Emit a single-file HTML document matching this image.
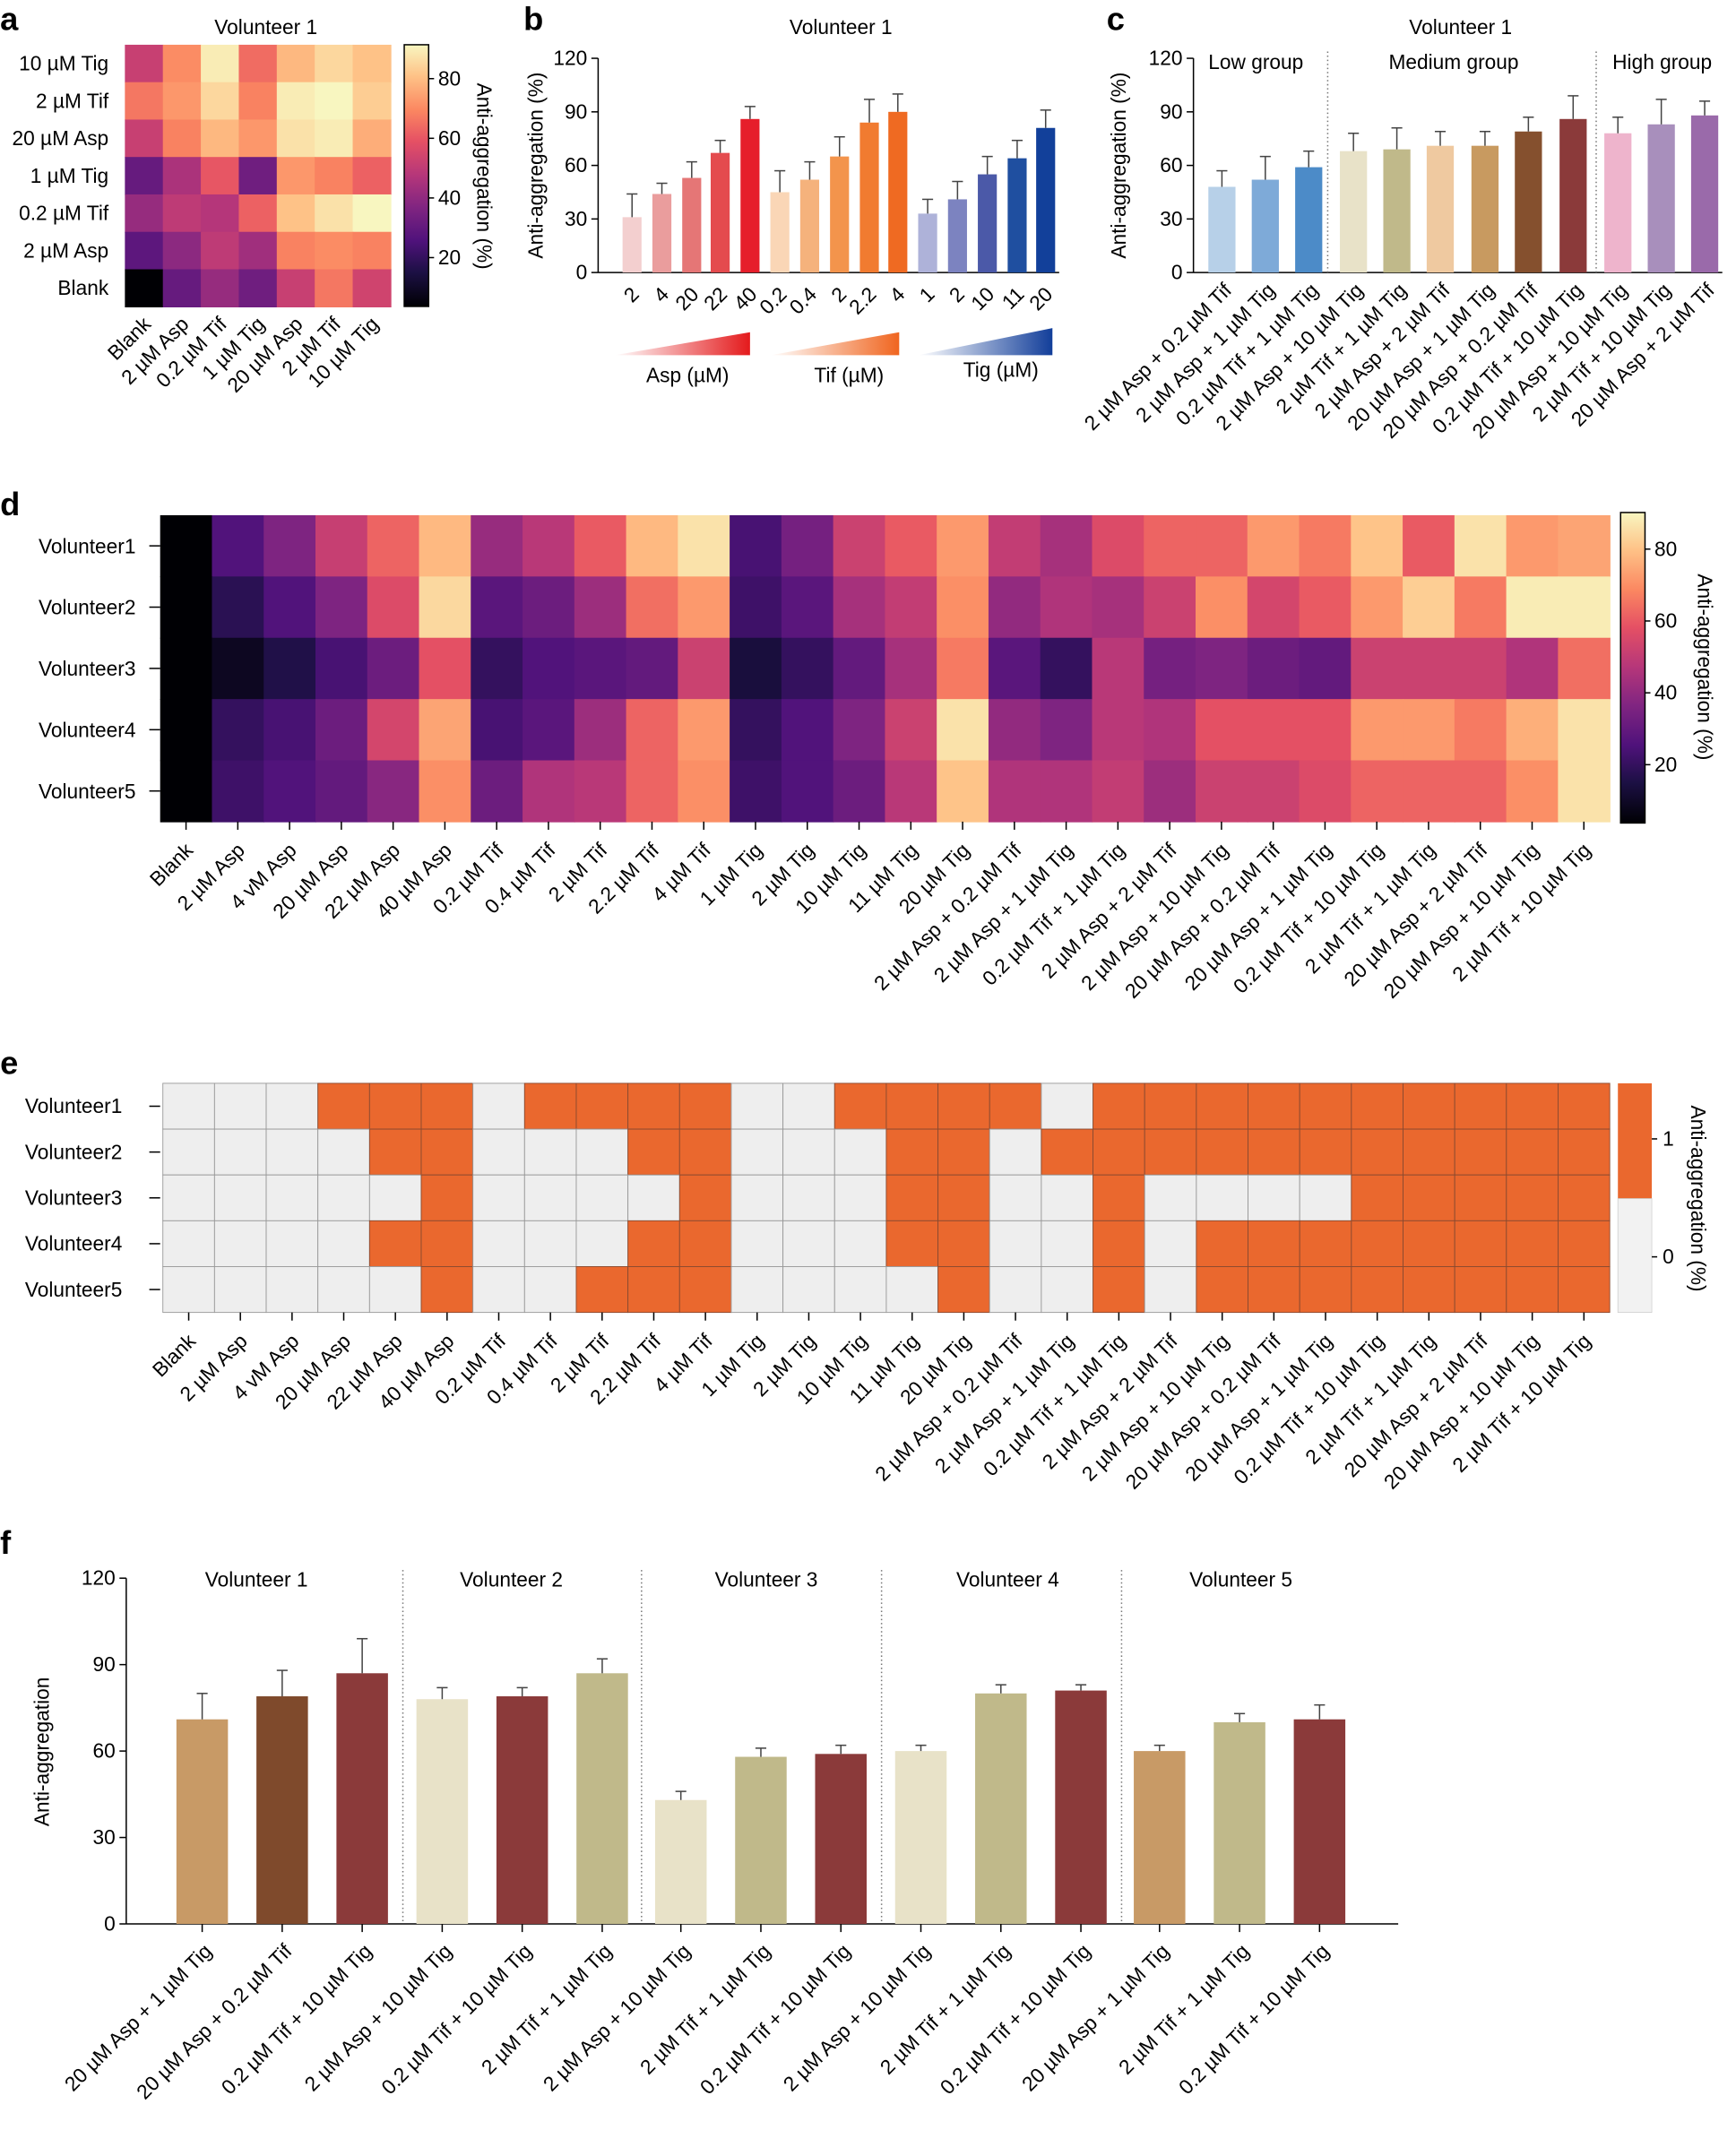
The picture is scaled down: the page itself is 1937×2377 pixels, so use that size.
<!DOCTYPE html>
<html><head><meta charset="utf-8"><style>
html,body{margin:0;padding:0;background:#fff;}
svg{display:block;font-family:"Liberation Sans",Arial,sans-serif;}
</style></head><body>
<svg id="s" width="1937" height="2377" viewBox="0 0 1280 1571" xmlns="http://www.w3.org/2000/svg">
<defs>
<linearGradient id="cm" x1="0" y1="1" x2="0" y2="0">
<stop offset="0" stop-color="#000004"/><stop offset="0.13" stop-color="#1c1044"/><stop offset="0.25" stop-color="#4f127b"/><stop offset="0.38" stop-color="#812581"/><stop offset="0.5" stop-color="#b5367a"/><stop offset="0.63" stop-color="#e55064"/><stop offset="0.75" stop-color="#fb8761"/><stop offset="0.88" stop-color="#fec287"/><stop offset="1" stop-color="#f8f6c0"/>
</linearGradient>
<linearGradient id="ga" x1="0" x2="1"><stop offset="0" stop-color="#fff"/><stop offset="1" stop-color="#e41a1c"/></linearGradient>
<linearGradient id="gt" x1="0" x2="1"><stop offset="0" stop-color="#fff"/><stop offset="1" stop-color="#f0651f"/></linearGradient>
<linearGradient id="gg" x1="0" x2="1"><stop offset="0" stop-color="#fff"/><stop offset="1" stop-color="#123e9a"/></linearGradient>
</defs>
<g font-weight="bold" font-size="24">
<text x="0" y="22">a</text><text x="386" y="22">b</text><text x="816" y="22">c</text><text x="0" y="380">d</text><text x="0" y="792">e</text><text x="0" y="1146">f</text>
</g>
<g font-size="15">
<text x="196" y="25" text-anchor="middle">Volunteer 1</text>
<text x="620" y="25" text-anchor="middle">Volunteer 1</text>
<text x="1077" y="25" text-anchor="middle">Volunteer 1</text>
<text x="891" y="51">Low group</text><text x="1024" y="51">Medium group</text><text x="1189" y="51">High group</text>
<text transform="translate(352,130) rotate(90)" text-anchor="middle">Anti-aggregation (%)</text>
<text transform="translate(400,122) rotate(-90)" text-anchor="middle">Anti-aggregation (%)</text>
<text transform="translate(830,122) rotate(-90)" text-anchor="middle">Anti-aggregation (%)</text>
<text transform="translate(1252,492) rotate(90)" text-anchor="middle">Anti-aggregation (%)</text>
<text transform="translate(1247,884) rotate(90)" text-anchor="middle">Anti-aggregation (%)</text>
<text transform="translate(36,1292) rotate(-90)" text-anchor="middle">Anti-aggregation</text>
<text x="507" y="282" text-anchor="middle">Asp (µM)</text>
<text x="626" y="282" text-anchor="middle">Tif (µM)</text>
<text x="738" y="278" text-anchor="middle">Tig (µM)</text>
<text x="189" y="1170" text-anchor="middle">Volunteer 1</text><text x="377" y="1170" text-anchor="middle">Volunteer 2</text><text x="565" y="1170" text-anchor="middle">Volunteer 3</text><text x="743" y="1170" text-anchor="middle">Volunteer 4</text><text x="915" y="1170" text-anchor="middle">Volunteer 5</text>
</g>
<polygon points="453,262 553,262 553,245" fill="url(#ga)"/>
<polygon points="568,262 663,262 663,245" fill="url(#gt)"/>
<polygon points="677,262 776,262 776,242" fill="url(#gg)"/>
<g id="g"></g>
</svg>
<script>
var NS="http://www.w3.org/2000/svg",G=document.getElementById("g");
function el(t,a,txt){var e=document.createElementNS(NS,t);for(var k in a)e.setAttribute(k,a[k]);if(txt!==undefined)e.textContent=txt;G.appendChild(e);return e;}
var S=[[0,[0,0,4]],[0.13,[28,16,68]],[0.25,[79,18,123]],[0.38,[129,37,129]],[0.5,[181,54,122]],[0.63,[229,80,100]],[0.75,[251,135,97]],[0.88,[254,194,135]],[1,[248,246,192]]];
function cm(t){t=Math.max(0,Math.min(1,t));for(var i=1;i<S.length;i++){if(t<=S[i][0]){var a=S[i-1],b=S[i],f=(t-a[0])/(b[0]-a[0]);return "rgb("+[0,1,2].map(function(j){return Math.round(a[1][j]+f*(b[1][j]-a[1][j]))}).join(",")+")";}}return "rgb(248,246,192)";}
function rl(x,y,s,fs){el("text",{transform:"translate("+x+","+y+") rotate(-45)","text-anchor":"end","font-size":fs||15},s);}
function tx(x,y,s,anc,fs){el("text",{x:x,y:y,"text-anchor":anc||"start","font-size":fs||15},s);}
function ln(x1,y1,x2,y2,c,w,d){var a={x1:x1,y1:y1,x2:x2,y2:y2,stroke:c||"#000","stroke-width":w||1};if(d)a["stroke-dasharray"]=d;el("line",a);}
// Panel a
var ar=["10 µM Tig","2 µM Tif","20 µM Asp","1 µM Tig","0.2 µM Tif","2 µM Asp","Blank"];
var ac=["Blank","2 µM Asp","0.2 µM Tif","1 µM Tig","20 µM Asp","2 µM Tif","10 µM Tig"];
var av=[[50,68,86,62,76,82,78],[64,70,82,66,86,88,80],[50,66,76,70,84,86,74],[30,44,58,32,70,66,60],[40,48,46,60,78,84,88],[28,38,48,42,66,68,66],[4,30,40,32,50,64,52]];
var cw=28,ch=27.6;
for(var i=0;i<7;i++){for(var j=0;j<7;j++)el("rect",{x:92+j*cw,y:33+i*ch,width:cw+0.5,height:ch+0.5,fill:cm((av[i][j]-4)/84)});tx(80,33+i*ch+19,ar[i],"end");}
for(var j=0;j<7;j++)rl(92+j*cw+20,240,ac[j]);
el("rect",{x:298,y:33,width:18,height:193,fill:"url(#cm)",stroke:"#000","stroke-width":1});
[[80,58],[60,102],[40,146],[20,190]].forEach(function(p){ln(316,p[1],320,p[1]);tx(323,p[1]+5,p[0]);});
function bar(cx,w,v,e,c,y0,k){var h=v*k;el("rect",{x:cx-w/2,y:y0-h,width:w,height:h,fill:c});ln(cx,y0-h,cx,y0-h-e*k,"#444",1);ln(cx-4,y0-h-e*k,cx+4,y0-h-e*k,"#444",1);}
function yax(x,y0,k,x2,ticks){ln(x,y0-120*k,x,y0);ln(x,y0,x2,y0);ticks.forEach(function(t){ln(x-5,y0-t*k,x,y0-t*k);tx(x-8,y0-t*k+5,t,"end");});}
// Panel b
var kb=158/120;yax(441,201,kb,781,[0,30,60,90,120]);
var bx=[466,488,510,531,553,575,597,619,641,662,684,706,728,750,771],bv=[31,44,53,67,86,45,52,65,84,90,33,41,55,64,81],be=[13,6,9,7,7,12,10,11,13,10,8,10,10,10,10];
var bc=["#f3cfcf","#ea9d9d","#e57676","#e44b4e","#e61e2b","#fad6b6","#f5b27c","#f3944c","#f17b30","#ef6a22","#aeb2d9","#7c83c0","#4b59a8","#1f4fa0","#12409a"];
var bl=["2","4","20","22","40","0.2","0.4","2","2.2","4","1","2","10","11","20"];
for(var i=0;i<15;i++){bar(bx[i],14,bv[i],be[i],bc[i],201,kb);rl(bx[i]+6,218,bl[i]);}
// Panel c
yax(880,201,kb,1270,[0,30,60,90,120]);
var cx=[901,933,965,998,1030,1062,1095,1127,1160,1193,1225,1257],cv=[48,52,59,68,69,71,71,79,86,78,83,88],ce=[9,13,9,10,12,8,8,8,13,9,14,8];
var cc=["#b7d0e8","#7eaad8","#4c8bc8","#e8e2c8","#c0b98a","#efc9a0","#c89a60","#85502e","#8b3a3a","#eeb4cc","#a88fbc","#9a6aaa"];
var cl=["2 µM Asp + 0.2 µM Tif","2 µM Asp + 1 µM Tig","0.2 µM Tif + 1 µM Tig","2 µM Asp + 10 µM Tig","2 µM Tif + 1 µM Tig","2 µM Asp + 2 µM Tif","20 µM Asp + 1 µM Tig","20 µM Asp + 0.2 µM Tif","0.2 µM Tif + 10 µM Tig","20 µM Asp + 10 µM Tig","2 µM Tif + 10 µM Tig","20 µM Asp + 2 µM Tif"];
for(var i=0;i<12;i++){bar(cx[i],20,cv[i],ce[i],cc[i],201,kb);rl(cx[i]+8,215,cl[i]);}
ln(979,38,979,201,"#777",1,"1,2");ln(1177,38,1177,201,"#777",1,"1,2");
// Panel d
var dl=["Blank","2 µM Asp","4 vM Asp","20 µM Asp","22 µM Asp","40 µM Asp","0.2 µM Tif","0.4 µM Tif","2 µM Tif","2.2 µM Tif","4 µM Tif","1 µM Tig","2 µM Tig","10 µM Tig","11 µM Tig","20 µM Tig","2 µM Asp + 0.2 µM Tif","2 µM Asp + 1 µM Tig","0.2 µM Tif + 1 µM Tig","2 µM Asp + 2 µM Tif","2 µM Asp + 10 µM Tig","20 µM Asp + 0.2 µM Tif","20 µM Asp + 1 µM Tig","0.2 µM Tif + 10 µM Tig","2 µM Tif + 1 µM Tig","20 µM Asp + 2 µM Tif","20 µM Asp + 10 µM Tig","2 µM Tif + 10 µM Tig"];
var dv=[[2,20,30,45,62,78,35,42,60,78,86,18,28,46,60,72,44,38,50,62,62,72,66,80,60,86,72,74],
[2,12,20,30,50,84,22,26,36,64,72,16,22,38,44,70,34,40,38,46,70,48,54,72,82,66,88,88],
[1,3,10,18,26,52,14,20,22,24,46,8,14,24,38,66,22,14,42,28,30,26,24,46,46,46,40,64],
[2,14,18,26,48,74,18,22,36,62,72,14,20,30,46,86,34,30,42,40,52,52,52,72,72,66,76,86],
[2,16,20,24,32,70,26,40,42,62,70,16,20,26,42,80,40,40,44,36,46,46,50,62,62,62,70,86]];
var dw=(1187-118)/28,dh=(606-380)/5;
for(var i=0;i<5;i++){for(var j=0;j<28;j++){var v=dv[i][j];if(j>0&&v<60)v+=6;el("rect",{x:118+j*dw,y:380+i*dh,width:dw+0.5,height:dh+0.5,fill:cm((v-4)/86)});}tx(100,380+i*dh+28,"Volunteer"+(i+1),"end");ln(110,380+i*dh+dh/2,118,380+i*dh+dh/2);}
for(var j=0;j<28;j++){ln(118+j*dw+dw/2,606,118+j*dw+dw/2,612);rl(118+j*dw+dw/2+6,628,dl[j]);}
el("rect",{x:1195,y:378,width:18,height:229,fill:"url(#cm)",stroke:"#000","stroke-width":1});
[[80,405],[60,458],[40,511],[20,564]].forEach(function(p){ln(1213,p[1],1217,p[1]);tx(1220,p[1]+5,p[0]);});
// Panel e
var ev=[[0,0,0,1,1,1,0,1,1,1,1,0,0,1,1,1,1,0,1,1,1,1,1,1,1,1,1,1],
[0,0,0,0,1,1,0,0,0,1,1,0,0,0,1,1,0,1,1,1,1,1,1,1,1,1,1,1],
[0,0,0,0,0,1,0,0,0,0,1,0,0,0,1,1,0,0,1,0,0,0,0,1,1,1,1,1],
[0,0,0,0,1,1,0,0,0,1,1,0,0,0,1,1,0,0,1,0,1,1,1,1,1,1,1,1],
[0,0,0,0,0,1,0,0,1,1,1,0,0,0,0,1,0,0,1,0,1,1,1,1,1,1,1,1]];
var ew=(1187-120)/28,eh=(968-799)/5;
for(var i=0;i<5;i++){for(var j=0;j<28;j++)el("rect",{x:120+j*ew,y:799+i*eh,width:ew,height:eh,fill:ev[i][j]?"#ea682e":"#eeeeee",stroke:ev[i][j]?"#8a4a30":"#999","stroke-width":0.6});tx(90,799+i*eh+22,"Volunteer"+(i+1),"end");ln(110,799+i*eh+eh/2,118,799+i*eh+eh/2);}
for(var j=0;j<28;j++){ln(120+j*ew+ew/2,968,120+j*ew+ew/2,974);rl(120+j*ew+ew/2+6,990,dl[j]);}
el("rect",{x:1193,y:799,width:25,height:85,fill:"#ea682e"});el("rect",{x:1193,y:884,width:25,height:84,fill:"#f2f2f2",stroke:"#ccc","stroke-width":0.5});
ln(1218,840,1222,840);tx(1226,845,"1");ln(1218,927,1222,927);tx(1226,932,"0");
// Panel f
var kf=255/120;yax(93,1419,kf,1031,[0,30,60,90,120]);
var fx=[149,208,267,326,385,444,502,561,620,679,738,797,855,914,973],fv=[71,79,87,78,79,87,43,58,59,60,80,81,60,70,71],fe=[9,9,12,4,3,5,3,3,3,2,3,2,2,3,5];
var fc=["#c89a66","#7f4a2c","#8b3a3a","#e8e2c8","#8b3a3a","#c0b98a","#e8e2c8","#c0b98a","#8b3a3a","#e8e2c8","#c0b98a","#8b3a3a","#c89a66","#c0b98a","#8b3a3a"];
var fl=["20 µM Asp + 1 µM Tig","20 µM Asp + 0.2 µM Tif","0.2 µM Tif + 10 µM Tig","2 µM Asp + 10 µM Tig","0.2 µM Tif + 10 µM Tig","2 µM Tif + 1 µM Tig","2 µM Asp + 10 µM Tig","2 µM Tif + 1 µM Tig","0.2 µM Tif + 10 µM Tig","2 µM Asp + 10 µM Tig","2 µM Tif + 1 µM Tig","0.2 µM Tif + 10 µM Tig","20 µM Asp + 1 µM Tig","2 µM Tif + 1 µM Tig","0.2 µM Tif + 10 µM Tig"];
for(var i=0;i<15;i++){bar(fx[i],38,fv[i],fe[i],fc[i],1419,kf);ln(fx[i],1419,fx[i],1425);rl(fx[i]+8,1440,fl[i]);}
[297,473,650,827].forEach(function(x){ln(x,1158,x,1419,"#777",1,"1,2");});
</script>
</body></html>
